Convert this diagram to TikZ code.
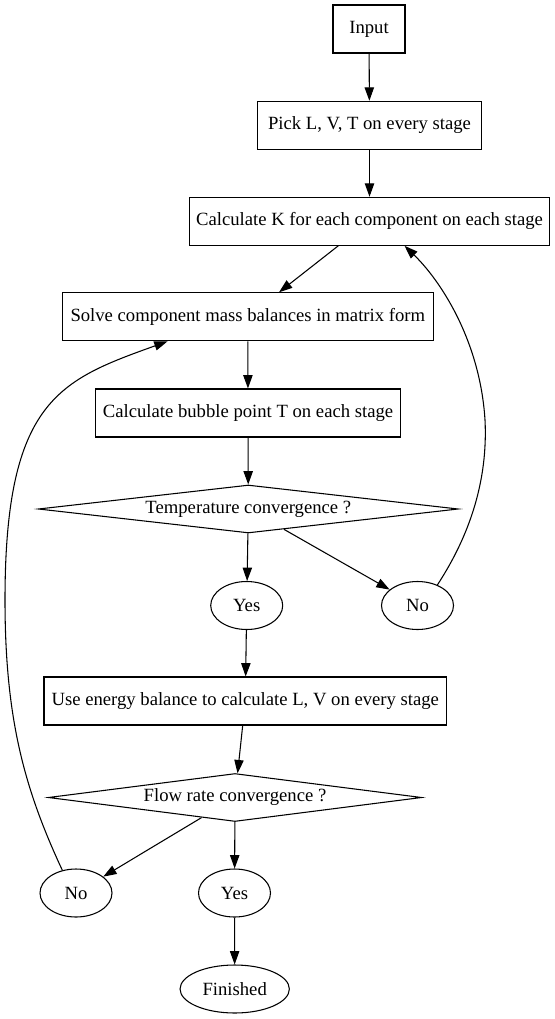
\documentclass[tikz,border=0pt]{standalone}
\usepackage{fontspec}
\setmainfont{Liberation Serif}
\usetikzlibrary{shapes.geometric, arrows.meta}

\begin{document}
\begin{tikzpicture}[x=0.75pt, y=-0.75pt,
        font=\fontsize{14pt}{16pt}\selectfont,
        block/.style={draw, rectangle, line width=0.8pt, minimum height=36pt, inner xsep=2pt},
        test/.style={draw, diamond, aspect=10, line width=0.8pt, inner sep=0pt, minimum height=36pt},
        answer/.style={draw, ellipse, line width=0.8pt, minimum width=54pt, minimum height=36pt, inner sep=1pt},
        link/.style={line width=0.8pt, -{Triangle[length=10pt,width=7pt]}}]
        \useasboundingbox (0,0) rectangle (555,1019);
        \node[block, minimum width=54pt]     (input)    at (369,29)      {Input};
        \node[block, minimum width=168pt]    (pick)     at (369.5,125.3) {Pick L, V, T on every stage};
        \node[block, minimum width=270.5pt]  (calcK)    at (369.5,221.3) {Calculate K for each component on each stage};
        \node[block, minimum width=278pt]    (solve)    at (247.8,316.8) {Solve component mass balances in matrix form};
        \node[block, minimum width=228.5pt]  (bubble)   at (248,413)     {Calculate bubble point T on each stage};
        \node[test, minimum width=315pt]     (temp)     at (248.3,509)   {Temperature convergence ?};
        \node[answer]                        (yesT)     at (246.7,605.5) {Yes};
        \node[answer]                        (noT)      at (417.5,605.5) {No};
        \node[block, minimum width=302pt]    (energy)   at (245.3,701)   {Use energy balance to calculate L, V on every stage};
        \node[test, minimum width=280pt]     (flow)     at (235,797.5)   {Flow rate convergence ?};
        \node[answer]                        (noF)      at (76,893)      {No};
        \node[answer]                        (yesF)     at (234.5,893)   {Yes};
        \node[answer, minimum width=82pt]    (finished) at (234.7,989)   {Finished};
        \draw[link] (input) -- (pick);
        \draw[link] (pick) -- (calcK);
        \draw[link] (calcK) -- (solve);
        \draw[link] (solve) -- (bubble);
        \draw[link] (bubble) -- (temp);
        \draw[link] (temp) -- (yesT);
        \draw[link] (temp) -- (noT);
        \draw[link] (noT.46) .. controls (470,535) and (488,480) .. (485,420)
                     .. controls (480,340) and (440,280) .. (calcK.-35);
        \draw[link] (yesT) -- (energy);
        \draw[link] (energy) -- (flow);
        \draw[link] (flow) -- (noF);
        \draw[link] (flow) -- (yesF);
        \draw[link] (yesF) -- (finished);
        \draw[link] (noF.121) .. controls (25,790) and (5,720) .. (5,600)
                     .. controls (5,400) and (60,380) .. (solve.-163);
    \end{tikzpicture}
\end{document}
